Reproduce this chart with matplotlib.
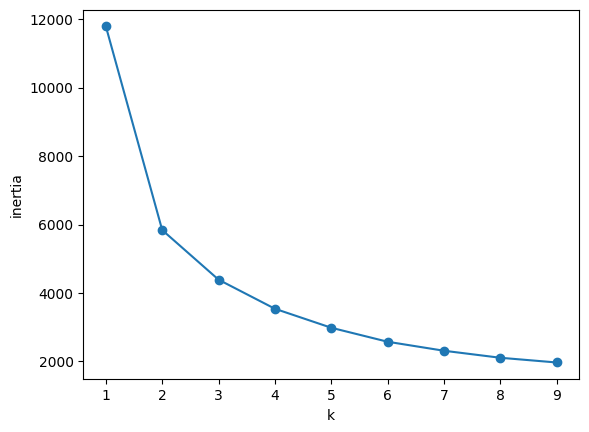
import matplotlib
matplotlib.use("Agg")
import matplotlib.pyplot as plt

k = [1, 2, 3, 4, 5, 6, 7, 8, 9]
inertia = [11795, 5840, 4390, 3540, 2985, 2576, 2313, 2108, 1970]

W, H = 589, 432
fig = plt.figure(figsize=(W / 100, H / 100), dpi=100)
ax = fig.add_axes([83.3 / W, (H - 379.3) / H, 496 / W, 369.8 / H])
ax.plot(k, inertia, marker='o')
ax.set_xlabel('k')
ax.set_ylabel('inertia')
fig.savefig('out.png', dpi=100)
